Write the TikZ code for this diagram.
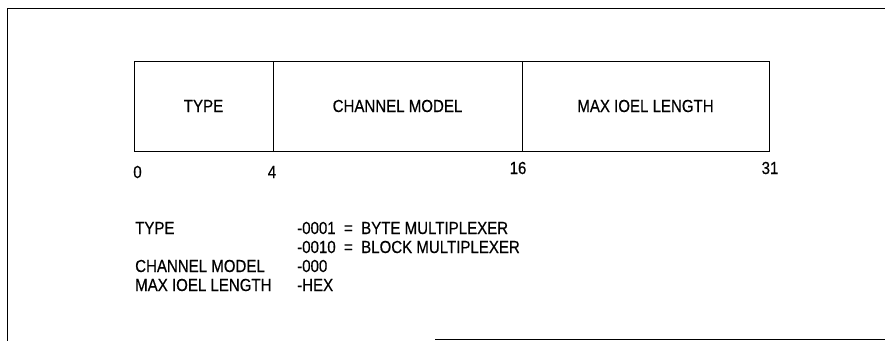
\documentclass[tikz,border=0pt]{standalone}
\usepackage{fontspec}
\setmainfont{Liberation Sans}[FakeStretch=0.86, FakeBold=0.4]
\usetikzlibrary{positioning}

\newcommand{\fieldfont}{\fontsize{17.5}{20}\selectfont}

\begin{document}
\begin{tikzpicture}[
  x=1pt, y=-1pt,
  field/.style={draw=black, line width=0.9pt, minimum height=90pt, inner sep=0pt, outer sep=0pt, font=\fieldfont},
  bitno/.style={inner sep=0pt, font=\fieldfont},
  legend/.style={anchor=west, inner sep=0pt, font=\fieldfont},
  frame/.style={line width=1pt}
]
  \useasboundingbox (0,0) rectangle (885,341);

  % Outer frame (open at the bottom left)
  \draw[frame] (885,8) -- (7,8) -- (7,341);
  \draw[frame] (435,339) -- (885,339);

  % Word layout: three fields
  \node[field, minimum width=139pt] (ftype) at (203.5,106) {TYPE};
  \node[field, minimum width=249pt, right=0pt of ftype] (fchan) {CHANNEL MODEL};
  \node[field, minimum width=247pt, right=0pt of fchan] (fmax) {MAX IOEL LENGTH};

  % Bit positions
  \node[bitno] (b0) at (137.5,172) {0};
  \node[bitno] (b4) at (272,172) {4};
  \node[bitno] (b16) at (518,168) {16};
  \node[bitno] (b31) at (770,168) {31};

  % Legend
  \node[legend] (ltype) at (135,228) {TYPE};
  \node[legend] (lchan) at (135,266) {CHANNEL MODEL};
  \node[legend] (lmax) at (135,285) {MAX IOEL LENGTH};
  \node[legend] (vbyte) at (297,228) {-0001\ \ =\ \ BYTE MULTIPLEXER};
  \node[legend] (vblock) at (297,247) {-0010\ \ =\ \ BLOCK MULTIPLEXER};
  \node[legend] (vchan) at (297,266) {-000};
  \node[legend] (vmax) at (297,285) {-HEX};
\end{tikzpicture}
\end{document}
